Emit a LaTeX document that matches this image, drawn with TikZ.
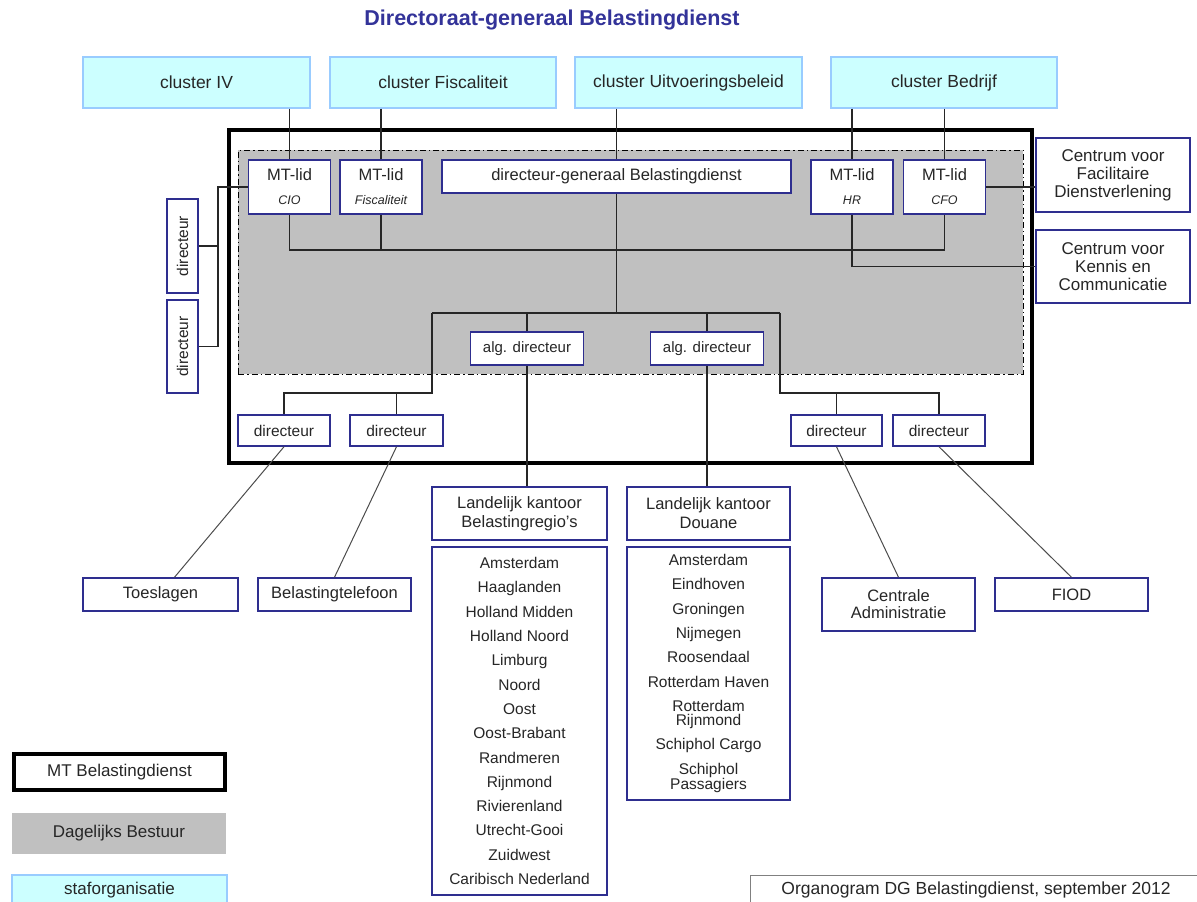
\documentclass[tikz,border=0pt]{standalone}
\usepackage{fontspec}
\setmainfont{Liberation Sans}
\usepackage{tikz}
\usetikzlibrary{positioning}

\begin{document}
\begin{tikzpicture}[x=1pt,y=-1pt]
    \definecolor{my_cyan}{HTML}{CCFFFF}
    \definecolor{my_sky}{HTML}{99CCFF}
    \definecolor{my_navy}{HTML}{2E2E8F}
    \definecolor{my_title}{HTML}{333399}
    \definecolor{my_grey}{HTML}{C0C0C0}
    \tikzstyle{every node}=[inner sep=0pt, text=black!85,
                            font=\fontsize{16.5}{18}\selectfont]
    \tikzstyle{unit}=[draw=my_navy, line width=1.5pt, fill=white, align=center]
    \tikzstyle{staff}=[draw=my_sky, line width=1.2pt, fill=my_cyan,
                       minimum height=51pt, font=\fontsize{17.5}{20}\selectfont]
    \tikzstyle{mtlid}=[unit, minimum width=82pt, minimum height=54pt]
    \tikzstyle{dirbox}=[unit, minimum width=92pt, minimum height=31pt,
                        font=\fontsize{15.5}{18}\selectfont]
    \tikzstyle{link}=[black!85, line width=1.3pt]
    \useasboundingbox (0,0) rectangle (1197,902);

    \node[font=\fontsize{21.5}{24}\selectfont\bfseries, text=my_title] (title) at (552,20) {Directoraat-generaal Belastingdienst};

    % clusters
    \node[staff, minimum width=227pt] (cIV) at (196.5,82.5) {cluster IV};
    \node[staff, minimum width=226pt] (cFis) at (443,82.5) {cluster Fiscaliteit};
    \node[staff, minimum width=227pt] (cUit) at (688.5,82.5) {cluster Uitvoeringsbeleid};
    \node[staff, minimum width=226pt] (cBed) at (944,82.5) {cluster Bedrijf};

    % MT en dagelijks bestuur
    \node[draw, line width=4pt, minimum width=803pt, minimum height=333pt] (mt) at (630.5,296.5) {};
    \node[draw, fill=my_grey, line width=1pt, dash pattern=on 6pt off 3pt on 1.5pt off 3pt,
          minimum width=785pt, minimum height=224pt] (db) at (630.5,262) {};

    \node[mtlid] (mtCIO) at (289.5,187) {MT-lid\\[6pt]{\fontsize{12.5}{14}\selectfont\itshape CIO}};
    \node[mtlid] (mtFis) at (381,187) {MT-lid\\[6pt]{\fontsize{12.5}{14}\selectfont\itshape Fiscaliteit}};
    \node[unit, minimum width=349pt, minimum height=33pt] (dg) at (616.5,176.5) {directeur-generaal Belastingdienst};
    \node[mtlid] (mtHR) at (852,187) {MT-lid\\[6pt]{\fontsize{12.5}{14}\selectfont\itshape HR}};
    \node[mtlid] (mtCFO) at (944.5,187) {MT-lid\\[6pt]{\fontsize{12.5}{14}\selectfont\itshape CFO}};

    \node[unit, minimum width=154pt, minimum height=74pt, font=\fontsize{17}{18}\selectfont] (fd) at (1113,175) {Centrum voor\\Facilitaire\\Dienstverlening};
    \node[unit, minimum width=154pt, minimum height=73pt, font=\fontsize{17}{18}\selectfont] (kc) at (1113,266.5) {Centrum voor\\Kennis en\\Communicatie};

    \node[dirbox, rotate=90, minimum width=94pt] (dL1) at (182.5,246) {directeur};
    \node[dirbox, rotate=90, minimum width=93pt] (dL2) at (182.5,346.5) {directeur};

    \node[unit, minimum width=113pt, minimum height=33pt, font=\fontsize{15}{18}\selectfont] (algL) at (527,348.5) {alg. directeur};
    \node[unit, minimum width=113pt, minimum height=33pt, font=\fontsize{15}{18}\selectfont] (algR) at (707,348.5) {alg. directeur};

    \node[dirbox] (dB1) at (284,430.5) {directeur};
    \node[dirbox, minimum width=93pt] (dB2) at (396.5,430.5) {directeur};
    \node[dirbox, minimum width=91pt] (dB3) at (836.5,430.5) {directeur};
    \node[dirbox] (dB4) at (939,430.5) {directeur};

    % onderdelen
    \node[unit, minimum width=155pt, minimum height=33pt] (toes) at (160.5,594.5) {Toeslagen};
    \node[unit, minimum width=153pt, minimum height=33pt] (btel) at (334.5,594.5) {Belastingtelefoon};
    \node[unit, minimum width=175pt, minimum height=53pt, font=\fontsize{16.5}{19}\selectfont] (lkB) at (519.5,513.5) {Landelijk kantoor\\Belastingregio's};
    \node[unit, minimum width=163pt, minimum height=53pt, font=\fontsize{16.5}{19}\selectfont] (lkD) at (708.5,513.5) {Landelijk kantoor\\Douane};
    \node[unit, minimum width=153pt, minimum height=53pt, font=\fontsize{16.5}{17}\selectfont] (ca) at (898.5,604.5) {Centrale\\Administratie};
    \node[unit, minimum width=153pt, minimum height=33pt] (fiod) at (1071.5,594.5) {FIOD};

    \node[unit, minimum width=175pt, minimum height=348pt, font=\fontsize{15.5}{24.3}\selectfont] (regios) at (519.5,721)
        {Amsterdam\\Haaglanden\\Holland Midden\\Holland Noord\\Limburg\\Noord\\Oost\\Oost-Brabant\\Randmeren\\Rijnmond\\Rivierenland\\Utrecht-Gooi\\Zuidwest\\Caribisch Nederland};
    \node[unit, minimum width=163pt, minimum height=253pt, font=\fontsize{15.5}{24.3}\selectfont] (douane) at (708.5,673.5)
        {Amsterdam\\Eindhoven\\Groningen\\Nijmegen\\Roosendaal\\Rotterdam Haven\\Rotterdam\\[-10pt]Rijnmond\\Schiphol Cargo\\Schiphol\\[-9pt]Passagiers};

    % verbindingen
    \coordinate (bus) at (290,250);
    \coordinate (split) at (616.5,313);
    \coordinate (brL) at (432,313);
    \coordinate (brR) at (780,313);
    \coordinate (lowL) at (432,393);
    \coordinate (lowR) at (780,393);
    \coordinate (lb) at (218,187);

    \draw[link] (cIV.south -| mtCIO.north) -- (mtCIO.north);
    \draw[link] (cFis.south -| mtFis.north) -- (mtFis.north);
    \draw[link] (cUit.south -| dg.north) -- (dg.north);
    \draw[link] (cBed.south -| mtHR.north) -- (mtHR.north);
    \draw[link] (cBed.south -| mtCFO.north) -- (mtCFO.north);

    \draw[link] (mtCIO.south) |- (mtCFO.south |- bus) -- (mtCFO.south);
    \draw[link] (mtFis.south) -- (mtFis.south |- bus);
    \draw[link] (mtHR.south) |- (kc.west);
    \draw[link] (mtCFO.east) -- (mtCFO.east -| fd.west);
    \draw[link] (mtCIO.west) -- (lb) |- (dL2.south);
    \draw[link] (dL1.south) -- (dL1.south -| lb);

    \draw[link] (dg.south) -- (split);
    \draw[link] (brL) -- (brR);
    \draw[link] (algL.north) -- (algL.north |- split);
    \draw[link] (algR.north) -- (algR.north |- split);
    \draw[link] (brL) -- (lowL) -| (dB1.north);
    \draw[link] (dB2.north) -- (dB2.north |- lowL);
    \draw[link] (brR) -- (lowR) -| (dB4.north);
    \draw[link] (dB3.north) -- (dB3.north |- lowR);

    \draw[black!70, line width=1pt] (dB1.south) -- ([xshift=14pt]toes.north);
    \draw[black!70, line width=1pt] (dB2.south) -- (btel.north);
    \draw[link] (algL.south) -- (algL.south |- lkB.north);
    \draw[link] (algR.south) -- (algR.south |- lkD.north);
    \draw[black!70, line width=1pt] (dB3.south) -- (ca.north);
    \draw[black!70, line width=1pt] (dB4.south) -- (fiod.north);

    % legenda
    \node[draw, line width=4pt, minimum width=211pt, minimum height=36pt, font=\fontsize{17}{18}\selectfont] (lgMT) at (119.5,772) {MT Belastingdienst};
    \node[fill=my_grey, minimum width=214pt, minimum height=41pt, font=\fontsize{17}{18}\selectfont] (lgDB) at (119,833.5) {Dagelijks Bestuur};
    \node[staff, minimum width=215pt, minimum height=30pt, font=\fontsize{17}{18}\selectfont] (lgSt) at (119.5,890) {staforganisatie};
    \node[draw=black!50, line width=1pt, minimum width=452pt, minimum height=30pt, font=\fontsize{17.5}{18}\selectfont] (stamp) at (976,890) {Organogram DG Belastingdienst, september 2012};
\end{tikzpicture}
\end{document}
